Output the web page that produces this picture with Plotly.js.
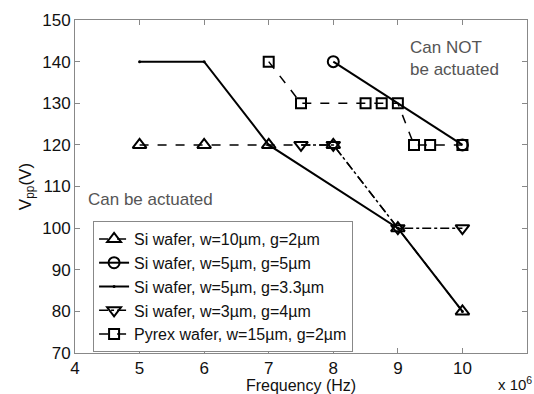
<!DOCTYPE html>
<html><head><meta charset="utf-8">
<script src="https://cdn.plot.ly/plotly-3.0.1.min.js"></script>
<style>html,body{margin:0;padding:0;background:#fff;}</style>
</head><body><div id="chart" style="width:534px;height:394px;"></div>
<script>
// Frequency in units of 10^6 Hz
const names = ["Si wafer, w=10µm, g=2µm","Si wafer, w=5µm, g=5µm","Si wafer, w=5µm, g=3.3µm","Si wafer, w=3µm, g=4µm","Pyrex wafer, w=15µm, g=2µm"];
const s1x = [5,6,7,8,9,10];           const s1y = [120,120,120,120,100,80];
const s2x = [8,10];                   const s2y = [140,120];
const s3x = [5,6,7,9,10];             const s3y = [140,140,120,100,80];
const s4x = [7.5,8,9,10];             const s4y = [120,120,100,100];
const s5x = [7,7.5,8.5,8.75,9,9.25,9.5,10]; const s5y = [140,130,130,130,130,120,120,120];
const xTicks = [4,5,6,7,8,9,10,11];
const yTicks = [70,80,90,100,110,120,130,140,150];

const F = "Liberation Sans, Arial, sans-serif";
const traces = [
 {x:s1x,y:s1y,name:names[0],mode:"lines+markers",line:{color:"#000",width:1.5,dash:"dash"},marker:{symbol:"triangle-up-open",size:12,color:"#000",line:{width:2}}},
 {x:s2x,y:s2y,name:names[1],mode:"lines+markers",line:{color:"#000",width:2},marker:{symbol:"circle-open",size:11,color:"#000",line:{width:2}}},
 {x:s3x,y:s3y,name:names[2],mode:"lines+markers",line:{color:"#000",width:2},marker:{symbol:"circle",size:3,color:"#000"}},
 {x:s4x,y:s4y,name:names[3],mode:"lines+markers",line:{color:"#000",width:1.5,dash:"dashdot"},marker:{symbol:"triangle-down-open",size:12,color:"#000",line:{width:2}}},
 {x:s5x,y:s5y,name:names[4],mode:"lines+markers",line:{color:"#000",width:1.5,dash:"dash"},marker:{symbol:"square-open",size:10,color:"#000",line:{width:2}}}
];
const layout = {
 width:534,height:394,
 margin:{l:75,r:7,t:20,b:41},
 paper_bgcolor:"#fff",plot_bgcolor:"#fff",
 font:{family:F,size:17,color:"#111"},
 showlegend:true,
 legend:{x:0.04,y:0.003,xanchor:"left",yanchor:"bottom",bgcolor:"#fff",bordercolor:"#888",borderwidth:1,font:{family:F,size:16,color:"#111"},tracegroupgap:0,itemwidth:30},
 xaxis:{range:[4,11],tickvals:xTicks,ticktext:xTicks.map(String),ticks:"inside",ticklen:5,tickcolor:"#888",showline:true,linecolor:"#888",mirror:"ticks",showgrid:false,zeroline:false,
   tickfont:{family:F,size:17,color:"#111"},title:{text:"Frequency (Hz)",font:{family:F,size:16,color:"#111"},standoff:0}},
 yaxis:{range:[70,150],tickvals:yTicks,ticks:"inside",ticklen:5,tickcolor:"#888",showline:true,linecolor:"#888",mirror:"ticks",showgrid:false,zeroline:false,
   tickfont:{family:F,size:17,color:"#111"},title:{text:"V<sub>pp</sub>(V)",font:{family:F,size:17,color:"#111"},standoff:6}},
 annotations:[
  {x:0.737,y:0.883,xref:"paper",yref:"paper",xanchor:"left",yanchor:"middle",align:"left",showarrow:false,text:"Can NOT<br>be actuated",font:{family:F,size:17,color:"#555"}},
  {x:0.025,y:0.46,xref:"paper",yref:"paper",xanchor:"left",yanchor:"middle",showarrow:false,text:"Can be actuated",font:{family:F,size:17,color:"#555"}},
  {x:1.015,y:-0.125,xref:"paper",yref:"paper",xanchor:"right",yanchor:"bottom",showarrow:false,text:"x 10<sup>6</sup>",font:{family:F,size:15,color:"#111"}}
 ]
};
Plotly.newPlot("chart",traces,layout,{displayModeBar:false,staticPlot:true});
</script></body></html>
